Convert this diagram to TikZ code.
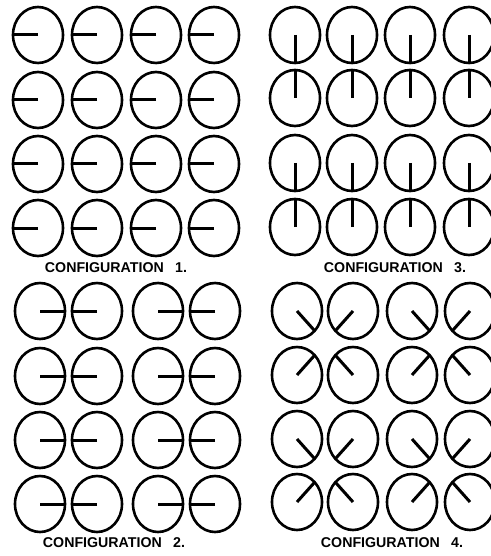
\documentclass[tikz,border=0pt]{standalone}
\usepackage{fontspec}
\setmainfont{Liberation Sans}
\begin{document}
\begin{tikzpicture}[x=1pt,y=-1pt,
  ring/.style={line width=2.6pt},
  hand/.style={line width=3pt},
  dial/.pic={\draw[ring] (0,0) ellipse (25 and 28); \draw[hand] (0,0) -- (#1:25 and 28);},
  caption/.style={font=\fontsize{14.2}{15}\selectfont\bfseries, inner sep=0pt}]
\useasboundingbox (0,0) rectangle (490,556);
% Configuration 1
\foreach \y in {35,100,164,228}
  \foreach \x in {38,97,156,214}
    \pic at (\x,\y) {dial=180};
\node[caption] (c1) at (116,268) {CONFIGURATION\hspace{0.8em}1.};
% Configuration 3
\foreach \y/\a in {35/90,98/270,163/90,227/270}
  \foreach \x in {295,352,410,469}
    \pic at (\x,\y) {dial=\a};
\node[caption] (c3) at (395,268) {CONFIGURATION\hspace{0.8em}3.};
% Configuration 2
\foreach \y in {311,376,440,504}
  \foreach \x/\a in {40/0,97/180,158/0,215/180}
    \pic at (\x,\y) {dial=\a};
\node[caption] (c2) at (114,543) {CONFIGURATION\hspace{0.8em}2.};
% Configuration 4
\foreach \y/\p/\q in {311/45/135,375/-45/225,439/45/135,502/-45/225}
  \foreach \x/\s in {297/0,353/1,412/0,470/1}{
    \pgfmathsetmacro\ang{\s==0 ? \p : \q}
    \pic at (\x,\y) {dial=\ang};}
\node[caption] (c4) at (392,543) {CONFIGURATION\hspace{0.8em}4.};
\end{tikzpicture}
\end{document}
